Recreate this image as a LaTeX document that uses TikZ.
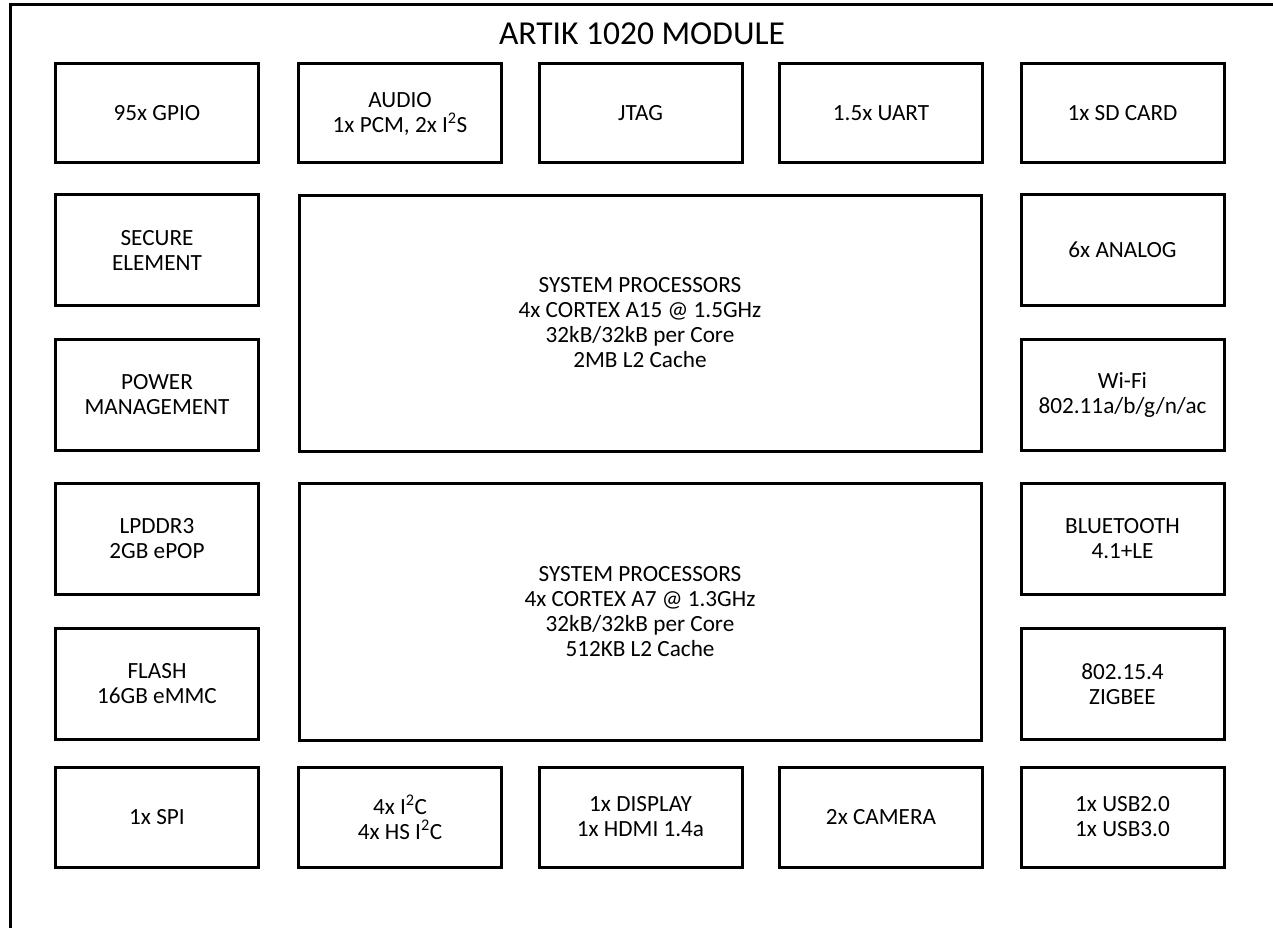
\documentclass[tikz,border=0pt]{standalone}
\usepackage{fontspec}
\setmainfont{Carlito}
\begin{document}
\begin{tikzpicture}[x=1pt,y=-1pt,
  blk/.style={draw=black, line width=3pt, line join=miter, align=center, inner sep=0pt,
    font=\fontsize{23.2}{25}\selectfont, text=black},
  small/.style={blk, minimum width=203pt, minimum height=99pt},
  side/.style={blk, minimum width=203pt, minimum height=111pt},
  big/.style={blk, minimum width=682pt, minimum height=256pt},
  frame/.style={line width=3pt, line join=miter}]
\useasboundingbox (0,0) rectangle (1273,928);
\draw[frame] (10,928) -- (10,5) -- (1273,5);
\node[anchor=base, font=\fontsize{33.5}{38}\selectfont, text=black] (title) at (642,45) {ARTIK 1020 MODULE};
% row 1
\node[small] (gpio) at (157,113.5) {95x GPIO};
\node[small] (audio) at (400,113.5) {AUDIO\\1x PCM, 2x I\textsuperscript{2}S};
\node[small] (jtag) at (640.5,113.5) {JTAG};
\node[small] (uart) at (881,113.5) {1.5x UART};
\node[small] (sd) at (1122.5,113.5) {1x SD CARD};
% left column
\node[side] (secure) at (157,250) {SECURE\\ELEMENT};
\node[side] (power) at (157,395) {POWER\\MANAGEMENT};
\node[side] (lpddr) at (157,539) {LPDDR3\\2GB ePOP};
\node[side] (flash) at (157,684) {FLASH\\16GB eMMC};
% right column
\node[side] (analog) at (1122.5,250) {6x ANALOG};
\node[side] (wifi) at (1122.5,395) {Wi-Fi\\802.11a/b/g/n/ac};
\node[side] (bt) at (1122.5,539) {BLUETOOTH\\4.1+LE};
\node[side] (zigbee) at (1122.5,684) {802.15.4\\ZIGBEE};
% processors
\node[big] (a15) at (640,323) {SYSTEM PROCESSORS\\4x CORTEX A15 @ 1.5GHz\\32kB/32kB per Core\\2MB L2 Cache};
\node[big, minimum height=257pt] (a7) at (640,611.5) {SYSTEM PROCESSORS\\4x CORTEX A7 @ 1.3GHz\\32kB/32kB per Core\\512KB L2 Cache};
% bottom row
\node[small, minimum height=100pt] (spi) at (157,817) {1x SPI};
\node[small, minimum height=100pt] (i2c) at (400,817) {4x I\textsuperscript{2}C\\4x HS I\textsuperscript{2}C};
\node[small, minimum height=100pt] (disp) at (640.5,817) {1x DISPLAY\\1x HDMI 1.4a};
\node[small, minimum height=100pt] (cam) at (881,817) {2x CAMERA};
\node[small, minimum height=100pt] (usb) at (1122.5,817) {1x USB2.0\\1x USB3.0};
\end{tikzpicture}
\end{document}
